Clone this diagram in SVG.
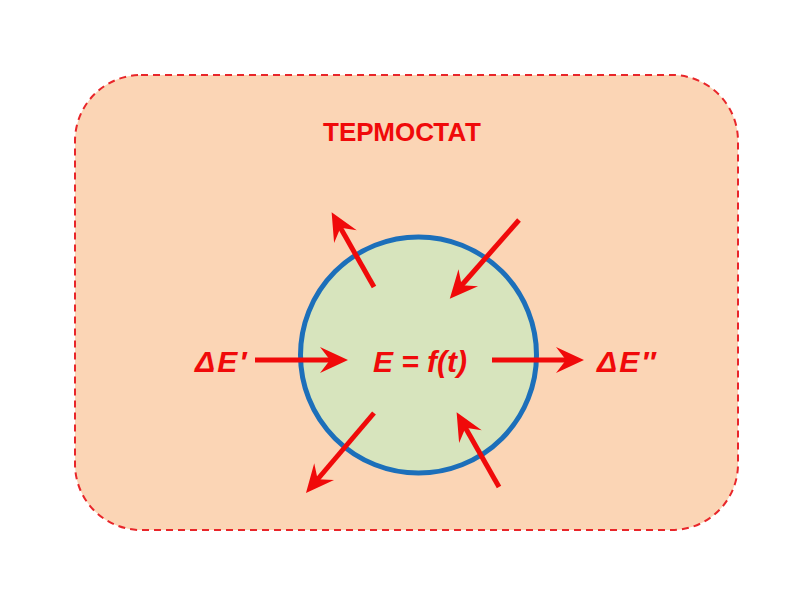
<svg xmlns="http://www.w3.org/2000/svg" width="800" height="600" viewBox="0 0 800 600">
<style>
.lbl{font-family:"Liberation Sans",Arial,sans-serif;font-weight:bold;fill:#F00A0A}
.it{font-style:italic;font-size:30px}
.de{letter-spacing:2px}
.arr{stroke:#F00A0A;stroke-width:5;fill:none;marker-end:url(#ah)}
</style>
<defs>
<marker id="ah" markerUnits="userSpaceOnUse" viewBox="-30 -14 32 28" refX="-17" refY="0" markerWidth="32" markerHeight="28" orient="auto">
<path d="M0,0 L-28,-13 L-18,0 L-28,13 Z" fill="#F00A0A"/>
</marker>
</defs>
<rect width="800" height="600" fill="#fff"/>
<g id="thermostat">
<rect x="75" y="75" width="663" height="455" rx="66" ry="66" fill="#FBD5B5" stroke="#E8262A" stroke-width="2" stroke-dasharray="7,5"/>
<text class="lbl" x="402" y="141" font-size="26" text-anchor="middle">ТЕРМОСТАТ</text>
</g>
<g id="system">
<circle cx="418.5" cy="355" r="118" fill="#D7E4BD" stroke="#1C6FBA" stroke-width="5"/>
<text class="lbl it" x="420" y="372" text-anchor="middle">E = f(t)</text>
</g>
<g id="dE1"><text class="lbl it de" x="195" y="372">ΔE′</text></g>
<g id="dE2"><text class="lbl it de" x="597" y="372">ΔE″</text></g>
<g id="connectors">
<line class="arr" x1="255" y1="360" x2="331" y2="360"/>
<line class="arr" x1="492" y1="360" x2="567" y2="360"/>
<line class="arr" x1="374" y1="287" x2="340" y2="227"/>
<line class="arr" x1="519" y1="220" x2="461" y2="286"/>
<line class="arr" x1="374" y1="413" x2="317" y2="480"/>
<line class="arr" x1="499" y1="487" x2="465" y2="427"/>
</g>
</svg>
